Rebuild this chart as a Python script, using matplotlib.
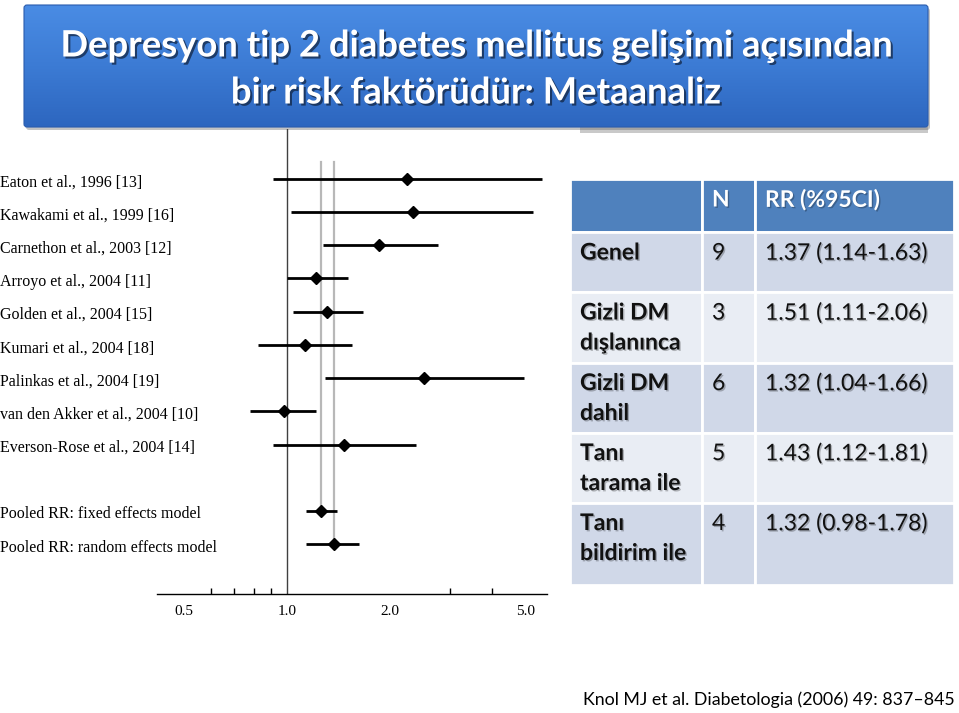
import numpy as np
import matplotlib
matplotlib.use("Agg")
import matplotlib.pyplot as plt
from matplotlib import patches, transforms
from matplotlib.colors import LinearSegmentedColormap
import matplotlib.patheffects as pe

W, H = 959, 713

# Forest plot: relative risk and 95% CI per study
studies = [
    "Eaton et al., 1996 [13]",
    "Kawakami et al., 1999 [16]",
    "Carnethon et al., 2003 [12]",
    "Arroyo et al., 2004 [11]",
    "Golden et al., 2004 [15]",
    "Kumari et al., 2004 [18]",
    "Palinkas et al., 2004 [19]",
    "van den Akker et al., 2004 [10]",
    "Everson-Rose et al., 2004 [14]",
    "Pooled RR: fixed effects model",
    "Pooled RR: random effects model",
]
rr = [2.25, 2.34, 1.86, 1.22, 1.31, 1.13, 2.52, 0.98, 1.47, 1.26, 1.37]
ci_low = [0.91, 1.03, 1.28, 1.00, 1.04, 0.82, 1.29, 0.78, 0.91, 1.14, 1.14]
ci_high = [5.60, 5.27, 2.77, 1.51, 1.67, 1.55, 4.95, 1.22, 2.39, 1.40, 1.63]
rows = [0, 1, 2, 3, 4, 5, 6, 7, 8, 10, 11]
major_ticks = [0.5, 1.0, 2.0, 5.0]
minor_ticks = [0.6, 0.7, 0.8, 0.9, 3.0, 4.0, 5.0]

# Summary table
tbl_header = ["", "N", "RR (%95CI)"]
tbl_groups = [["Genel"], ["Gizli DM", "dışlanınca"], ["Gizli DM", "dahil"],
              ["Tanı", "tarama ile"], ["Tanı", "bildirim ile"]]
tbl_n = [9, 3, 6, 5, 4]
tbl_rr = [1.37, 1.51, 1.32, 1.43, 1.32]
tbl_lo = [1.14, 1.11, 1.04, 1.12, 0.98]
tbl_hi = [1.63, 2.06, 1.66, 1.81, 1.78]

title_lines = ["Depresyon tip 2 diabetes mellitus gelişimi açısından",
               "bir risk faktörüdür: Metaanaliz"]
citation = "Knol MJ et al. Diabetologia (2006) 49: 837–845"

fig = plt.figure(figsize=(W / 100, H / 100), dpi=100)

# background layer in pixel coordinates
bg = fig.add_axes([0, 0, 1, 1], zorder=0)
bg.axis("off")

# title banner (shadow first, gradient on top)
bg.add_patch(patches.Rectangle((580, 126), 348, 7, color="#c9c9c9", lw=0, zorder=0))
bg.add_patch(patches.FancyBboxPatch((26, 8), 904, 122, boxstyle="round,pad=0,rounding_size=3",
                                    fc="#6a6a6a", ec="none", alpha=0.4, zorder=0))
banner = patches.FancyBboxPatch((24, 5), 904, 122, boxstyle="round,pad=0,rounding_size=3",
                                fc="none", ec="#2a5cae", lw=0.8, zorder=2)
bg.add_patch(banner)
cmap = LinearSegmentedColormap.from_list("bn", ["#4a8ce4", "#3c7bd4", "#2d66bf"])
grad = np.linspace(0, 1, 256).reshape(-1, 1)
im = bg.imshow(grad, cmap=cmap, extent=(24, 928, 127, 5), origin="upper",
               aspect="auto", zorder=1)
im.set_clip_path(banner)
shadow = [pe.withSimplePatchShadow(offset=(1.5, -1.5), shadow_rgbFace="#10203a", alpha=0.7)]
for i, line in enumerate(title_lines):
    bg.text(476, 46 + i * 47, line, ha="center", va="center", color="white",
            fontsize=26.2, fontweight="bold", family="Lato", path_effects=shadow, zorder=3)

# table
col_x = [570, 702, 755, 954]
row_y = [179, 232, 292, 362.5, 432.5, 502.5, 585]
fills = ["#4f81bd", "#d0d8e8", "#e9edf4", "#d0d8e8", "#e9edf4", "#d0d8e8"]
for r in range(len(row_y) - 1):
    for c in range(len(col_x) - 1):
        bg.add_patch(patches.Rectangle((col_x[c], row_y[r]), col_x[c + 1] - col_x[c],
                                       row_y[r + 1] - row_y[r], fc=fills[r], ec="white", lw=2))
txt_shadow = [pe.withSimplePatchShadow(offset=(1, -1), shadow_rgbFace="#000000", alpha=0.25)]
text_x = [580, 712, 765]
for c, h in enumerate(tbl_header):
    bg.text(text_x[c], 200, h, ha="left", va="center", color="white",
            fontsize=16.5, fontweight="bold", family="Lato", path_effects=txt_shadow)
for r in range(len(tbl_groups)):
    y0 = row_y[r + 1] + 21
    for k, part in enumerate(tbl_groups[r]):
        bg.text(text_x[0], y0 + k * 30, part, ha="left", va="center", color="#111111",
                fontsize=16.5, fontweight="bold", family="Lato", path_effects=txt_shadow)
    bg.text(text_x[1], y0, str(tbl_n[r]), ha="left", va="center", color="#111111",
            fontsize=16.5, family="Lato", path_effects=txt_shadow)
    bg.text(text_x[2], y0, f"{tbl_rr[r]:.2f} ({tbl_lo[r]:.2f}-{tbl_hi[r]:.2f})",
            ha="left", va="center", color="#111111", fontsize=16.5, family="Lato",
            path_effects=txt_shadow)

bg.text(583, 700, citation, ha="left", va="center", color="black", fontsize=12.8, family="Lato")
bg.set_xlim(0, W)
bg.set_ylim(H, 0)

# forest plot
ax = fig.add_axes([157 / W, 1 - 594 / H, (547 - 157) / W, (594 - 129) / H], zorder=1)
ax.patch.set_alpha(0)
ax.set_xscale("log")
ax.set_xlim(0.416, 5.79)
ax.set_ylim(12.5, -1.5)

ax.plot([1, 1], [-1.5, 12.5], color="#404040", lw=1)
ax.plot([rr[9], rr[9]], [-0.5, rows[9]], color="#b8b8b8", lw=1.6)
ax.plot([rr[10], rr[10]], [-0.5, rows[10]], color="#b8b8b8", lw=1.6)
ax.hlines(rows, ci_low, ci_high, color="black", lw=2)
ax.plot(rr, rows, "D", color="black", ms=6.5)

for s in ["top", "left", "right"]:
    ax.spines[s].set_visible(False)
ax.spines["bottom"].set_linewidth(1)
ax.set_yticks([])
ax.xaxis.set_major_locator(matplotlib.ticker.FixedLocator(major_ticks))
ax.xaxis.set_minor_locator(matplotlib.ticker.FixedLocator(minor_ticks))
ax.xaxis.set_major_formatter(matplotlib.ticker.FixedFormatter([f"{v:.1f}" for v in major_ticks]))
ax.xaxis.set_minor_formatter(matplotlib.ticker.NullFormatter())
ax.tick_params(axis="x", which="major", length=0, pad=8, labelsize=11)
ax.tick_params(axis="x", which="minor", direction="in", length=4, width=1)
for lbl in ax.get_xticklabels():
    lbl.set_family("Liberation Serif")

trans = transforms.blended_transform_factory(fig.transFigure, ax.transData)
for name, r in zip(studies, rows):
    ax.text(0.0, r + 0.1, name, transform=trans, ha="left", va="center",
            family="Liberation Serif", fontsize=11.5, clip_on=False)

fig.savefig("out.png", dpi=100, facecolor="white")
